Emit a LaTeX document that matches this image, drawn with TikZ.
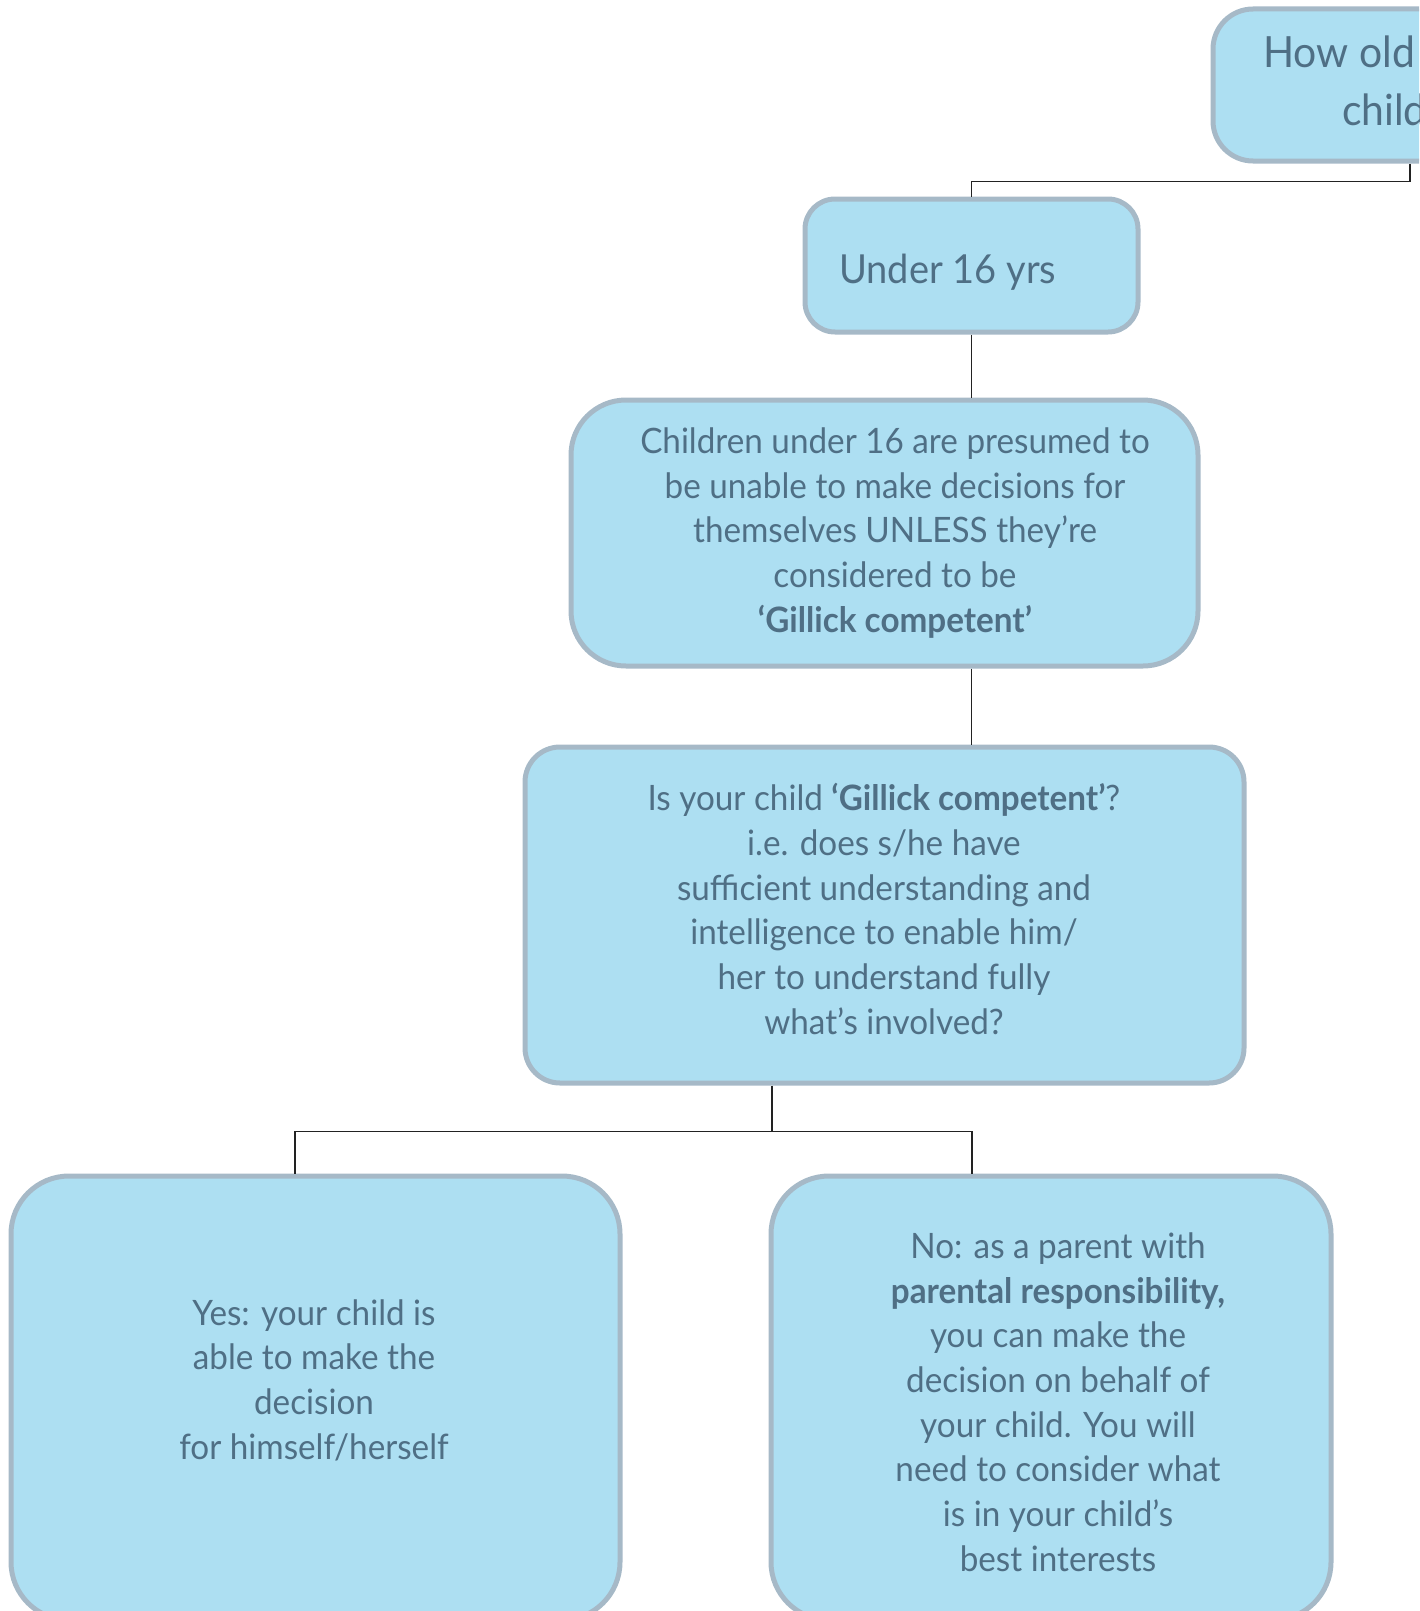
\documentclass[tikz,border=0pt]{standalone}
\usepackage{fontspec}
\setmainfont{Lato}[FakeStretch=0.95]
\definecolor{boxfill}{HTML}{ADDFF2}
\definecolor{boxline}{HTML}{A6B9C7}
\definecolor{txt}{HTML}{4F6F85}
\definecolor{connc}{HTML}{222222}
\begin{document}
\begin{tikzpicture}[x=1pt,y=-1pt,
  box/.style={draw=boxline, fill=boxfill, line width=5pt, rounded corners=#1, inner sep=0pt, shape=rectangle},
  box/.default=40pt,
  txtn/.style={text=txt, align=center, font=\fontsize{35}{44.7}\selectfont, inner sep=0pt},
  link/.style={draw=connc, line width=1.6pt}]
\useasboundingbox (0,0) rectangle (1419,1611);
\clip (0,0) rectangle (1419,1611);
% boxes
\node[box=40pt, minimum width=407pt, minimum height=152pt] (top) at (1416.5,85) {};
\node[box=30pt, minimum width=333pt, minimum height=133pt] (u16) at (971.5,265.5) {};
\node[box=55pt, minimum width=627pt, minimum height=266pt] (b3) at (884.5,533) {};
\node[box=35pt, minimum width=719pt, minimum height=336pt] (b4) at (884.5,915) {};
\node[box=58pt, minimum width=609pt, minimum height=444pt] (b5) at (315.5,1398) {};
\node[box=58pt, minimum width=560pt, minimum height=444pt] (b6) at (1051,1398) {};
% texts
\node[txtn, anchor=base west, font=\fontsize{43}{58}\selectfont] (t1a) at (1263,67) {How old is your};
\node[txtn, anchor=base west, font=\fontsize{43}{58}\selectfont] (t1b) at (1342,125) {child?};
\node[txtn, anchor=base west, font=\fontsize{40}{50}\selectfont] (t2) at (839,283) {Under 16 yrs};
\node[txtn] (t3) at (895,533) {Children under 16 are presumed to\\be unable to make decisions for\\themselves UNLESS they’re\\considered to be\\\textbf{‘Gillick competent’}};
\node[txtn] (t4) at (884,909) {Is your child \textbf{‘Gillick competent’}?\\i.e. does s/he have\\sufficient understanding and\\intelligence to enable him/\\her to understand fully\\what’s involved?};
\node[txtn] (t5) at (314,1380) {Yes: your child is\\able to make the\\decision\\for himself/herself};
\node[txtn] (t6) at (1058,1402) {No: as a parent with\\\textbf{parental responsibility,}\\you can make the\\decision on behalf of\\your child. You will\\need to consider what\\is in your child’s\\best interests};
% connectors
\draw[link] ([xshift=-6.5pt]top.south) -- ++(0,18) -| (u16.north);
\draw[link] (u16.south) -- (u16.south |- b3.north);
\draw[link] (b3.south -| u16.south) -- (b4.north -| u16.south);
\draw[link] ([xshift=-112.5pt]b4.south) -- ++(0,46) coordinate (j);
\draw[link] (j) -| ([xshift=-20.5pt]b5.north);
\draw[link] (j) -| ([xshift=-79pt]b6.north);
\end{tikzpicture}
\end{document}
